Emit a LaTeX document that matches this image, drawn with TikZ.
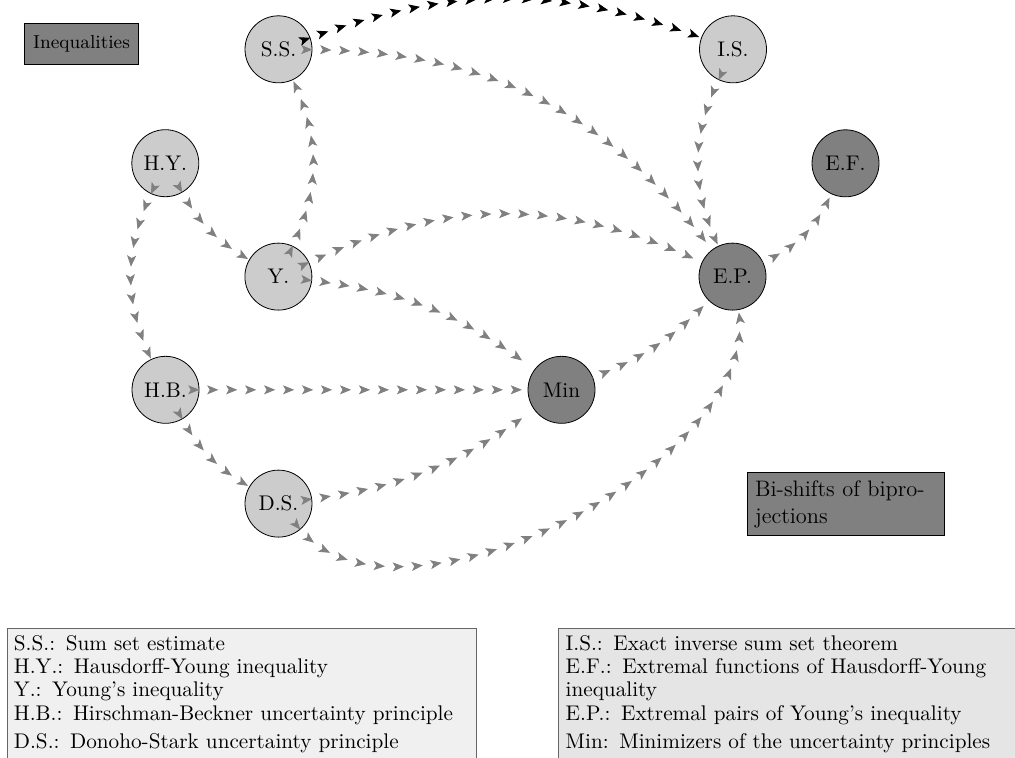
\documentclass[tikz,border=0pt]{standalone}
\usetikzlibrary{decorations.markings,arrows.meta}
\begin{document}
\begin{tikzpicture}[x=0.5pt,y=0.5pt,
  every node/.style={font=\fontsize{10.6}{11.7}\selectfont},
  circ/.style={circle,draw=black,minimum size=33.5pt,inner sep=0pt},
  lt/.style={circ,fill=gray!40},
  dk/.style={circ,fill=gray},
  tagbox/.style={draw=black,fill=gray,inner sep=4pt},
  legend/.style={draw=black!60,inner sep=3.5pt,text width=227.5pt,align=left,anchor=north west},
  flow/.style={decoration={markings,
      mark=between positions 0 and 1 step 9.485pt with {\arrow{Stealth[length=5.6pt,width=4.5pt,inset=1.3pt]}}},
      postaction={decorate}},
  gar/.style={flow,color=gray},
  bar/.style={flow,color=black}
]
\useasboundingbox (0,0) rectangle (1015,-757);

% nodes
\node[lt] (SS)  at (278.5,-49.3)  {S.S.};
\node[lt] (IS)  at (733,-49.3)    {I.S.};
\node[lt] (HY)  at (165.3,-163.2) {H.Y.};
\node[dk] (EF)  at (845.5,-163.3) {E.F.};
\node[lt] (Y)   at (278.4,-276.6) {Y.};
\node[dk] (EP)  at (732.5,-276.6) {E.P.};
\node[lt] (HB)  at (165.5,-389.8) {H.B.};
\node[dk] (Min) at (561.5,-389.8) {Min};
\node[lt] (DS)  at (278.5,-503.6) {D.S.};

\node[tagbox,font=\fontsize{9.4}{11}\selectfont,inner xsep=4.5pt,minimum height=20.5pt] (ineq) at (81.5,-43.5) {Inequalities};
\node[tagbox,font=\fontsize{11.2}{13.3}\selectfont,text width=90.6pt,align=left,anchor=north west] (bs) at (746.7,-472.3)
  {Bi-shifts of bipro-\\jections};

\node[legend,fill=gray!12] (leg1) at (6.5,-627.7)
  {S.S.: Sum set estimate\\
   H.Y.: Hausdorff-Young inequality\\
   Y.: Young's inequality\\
   H.B.: Hirschman-Beckner uncertainty principle\\[2.5pt]
   D.S.: Donoho-Stark uncertainty principle};
\node[legend,fill=gray!20] (leg2) at (558.3,-627.7)
  {I.S.: Exact inverse sum set theorem\\
   E.F.: Extremal functions of Hausdorff-Young\\
   inequality\\
   E.P.: Extremal pairs of Young's inequality\\[2.5pt]
   Min: Minimizers of the uncertainty principles};

% connectors
\path[bar] (SS) to[bend left=20] (IS);
\path[gar] (SS) to[bend left=26] (EP);
\path[gar] (Y) to[bend right=25] (SS);
\path[gar] (IS) to[bend right=25] (EP);
\path[gar] (HY) to[bend right=15] (Y);
\path[gar] (HY) to[bend right=25] (HB);
\path[gar] (HB) to[bend right=15] (DS);
\path[gar] (Y) to[bend left=25] (EP);
\path[gar] (Y) to[bend left=15] (Min);
\path[gar] (HB) -- (Min);
\path[gar] (DS) to[bend right=14] (Min);
\path[gar] (DS) to[out=-50,in=-80,looseness=0.8] (EP);
\path[gar] (Min) to[bend right=12] (EP);
\path[gar] (EP) to[bend right=20] (EF);
\end{tikzpicture}
\end{document}
